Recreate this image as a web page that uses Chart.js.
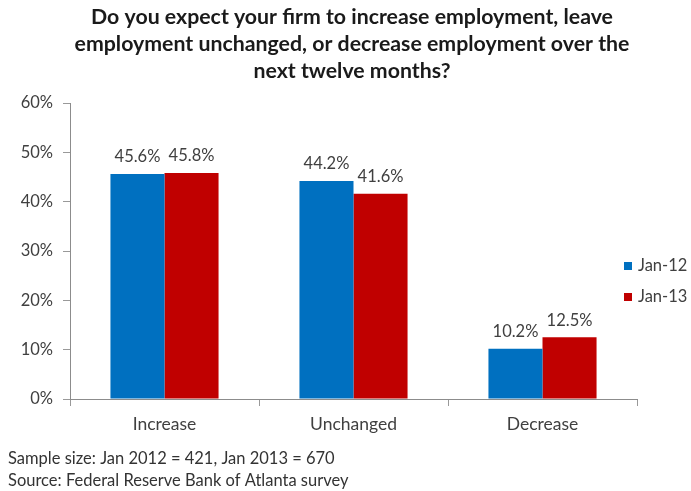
<!DOCTYPE html>
<html>
<head>
<meta charset="utf-8">
<script src="https://cdn.jsdelivr.net/npm/chart.js@4.4.0/dist/chart.umd.min.js"></script>
<style>
  html, body { margin: 0; padding: 0; background: #fff; }
  #wrap { width: 691px; height: 491px; }
</style>
</head>
<body>
<div id="wrap"><canvas id="chart" width="691" height="491"></canvas></div>
<script>
const categories = ['Increase', 'Unchanged', 'Decrease'];
const jan12 = [45.6, 44.2, 10.2];
const jan13 = [45.8, 41.6, 12.5];
const seriesNames = ['Jan-12', 'Jan-13'];
const yTicks = [0, 10, 20, 30, 40, 50, 60];
const titleLines = [
    'Do you expect your firm to increase employment, leave',
    'employment unchanged, or decrease employment over the',
    'next twelve months?'
];
const notes = [
    'Sample size: Jan 2012 = 421, Jan 2013 = 670',
    'Source: Federal Reserve Bank of Atlanta survey'
];

const FONT = 'Lato, "Open Sans", sans-serif';
const TEXT = '#404040';
const seriesColors = ['#0070C0', '#C00000'];

// percentage labels over each bar
const valueLabels = {
    id: 'valueLabels',
    afterDatasetsDraw(chart) {
        const ctx = chart.ctx;
        ctx.save();
        ctx.font = '16.5px ' + FONT;
        ctx.fillStyle = TEXT;
        ctx.textAlign = 'center';
        ctx.textBaseline = 'middle';
        chart.data.datasets.forEach((ds, i) => {
            chart.getDatasetMeta(i).data.forEach((bar, j) => {
                ctx.fillText(ds.data[j].toFixed(1) + '%', bar.x, bar.y - 17);
            });
        });
        ctx.restore();
    }
};

// title, legend and footnotes
const extras = {
    id: 'extras',
    afterDraw(chart) {
        const ctx = chart.ctx;
        ctx.save();
        ctx.textBaseline = 'middle';

        ctx.font = 'bold 21.3px ' + FONT;
        ctx.fillStyle = '#1a1a1a';
        ctx.textAlign = 'center';
        titleLines.forEach((t, i) => ctx.fillText(t, 352, 17 + i * 27));

        ctx.font = '16.5px ' + FONT;
        ctx.textAlign = 'left';
        seriesNames.forEach((name, i) => {
            const y = 266 + i * 31;
            ctx.fillStyle = seriesColors[i];
            ctx.fillRect(624, y - 4, 8, 8);
            ctx.fillStyle = TEXT;
            ctx.fillText(name, 638, y);
        });

        ctx.font = '16.5px ' + FONT;
        ctx.fillStyle = '#333';
        notes.forEach((t, i) => ctx.fillText(t, 8, 459 + i * 22));
        ctx.restore();
    }
};

new Chart(document.getElementById('chart').getContext('2d'), {
    type: 'bar',
    data: {
        labels: categories,
        datasets: [
            { label: seriesNames[0], data: jan12, backgroundColor: seriesColors[0] },
            { label: seriesNames[1], data: jan13, backgroundColor: seriesColors[1] }
        ]
    },
    options: {
        responsive: false,
        animation: false,
        devicePixelRatio: 1,
        categoryPercentage: 0.572,
        barPercentage: 1.0,
        layout: { padding: { top: 103, right: 54, bottom: 0, left: 0 } },
        plugins: {
            legend: { display: false },
            tooltip: { enabled: false }
        },
        scales: {
            x: {
                afterFit: s => { s.height = 92; },
                grid: { drawOnChartArea: false, tickLength: 7, color: '#999' },
                border: { color: '#8c8c8c' },
                ticks: { color: TEXT, font: { family: FONT, size: 17.5 }, padding: 8 }
            },
            y: {
                min: 0,
                max: 60,
                afterFit: s => { s.width = 70; },
                afterBuildTicks: s => { s.ticks = yTicks.map(v => ({ value: v })); },
                grid: { drawOnChartArea: false, tickLength: 7, color: '#999' },
                border: { color: '#8c8c8c' },
                ticks: {
                    color: TEXT,
                    font: { family: FONT, size: 16.5 },
                    padding: 10,
                    callback: v => v + '%'
                }
            }
        }
    },
    plugins: [valueLabels, extras]
});
</script>
</body>
</html>
